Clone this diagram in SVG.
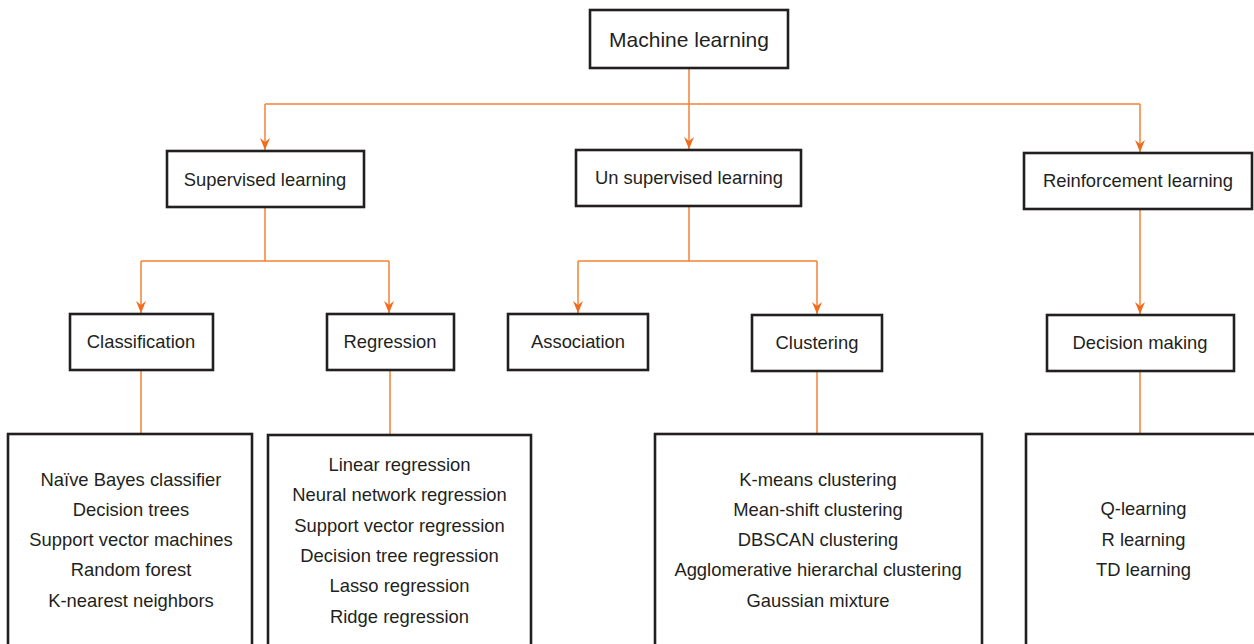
<svg xmlns="http://www.w3.org/2000/svg" width="1254" height="644" viewBox="0 0 1254 644">
<defs>
<style>
.box{fill:#fff;stroke:#231f20;stroke-width:2.6}
.t{font-family:"Liberation Sans",Arial,sans-serif;font-size:18.4px;fill:#231f20;text-anchor:middle}
.big{font-size:21px}
.c{fill:none;stroke:#f58233;stroke-width:1.5}
</style>
<marker id="arr" viewBox="0 0 12 10" markerWidth="12" markerHeight="10" refX="12" refY="5" orient="auto" markerUnits="userSpaceOnUse">
<path d="M0,0 L4,5 L0,10 L12,5 Z" fill="#f26b1d"/>
</marker>
</defs>
<rect width="1254" height="644" fill="#fff"/>
<g id="connectors">
<path class="c" d="M689,68 V149" marker-end="url(#arr)"/>
<path class="c" d="M265,104 H1140"/>
<path class="c" d="M265,104 V150" marker-end="url(#arr)"/>
<path class="c" d="M1140,104 V152" marker-end="url(#arr)"/>
<path class="c" d="M265,207 V261"/>
<path class="c" d="M141,261 H389"/>
<path class="c" d="M141,261 V313" marker-end="url(#arr)"/>
<path class="c" d="M389,261 V313" marker-end="url(#arr)"/>
<path class="c" d="M689,206 V261"/>
<path class="c" d="M578,261 H817"/>
<path class="c" d="M578,261 V313" marker-end="url(#arr)"/>
<path class="c" d="M817,261 V314" marker-end="url(#arr)"/>
<path class="c" d="M1140,209 V314" marker-end="url(#arr)"/>
<path class="c" d="M141,370 V434"/>
<path class="c" d="M390,370 V435"/>
<path class="c" d="M817,371 V434"/>
<path class="c" d="M1140,371 V434"/>
</g>
<g id="ml"><rect class="box" x="590" y="10" width="198" height="58"/><text class="t big" x="689" y="46.5">Machine learning</text></g>
<g id="supervised"><rect class="box" x="167" y="151" width="197" height="56"/><text class="t" x="265" y="185.5">Supervised learning</text></g>
<g id="unsupervised"><rect class="box" x="576" y="150" width="225" height="56"/><text class="t" x="689" y="183.5">Un supervised learning</text></g>
<g id="reinforcement"><rect class="box" x="1024" y="153" width="228" height="56"/><text class="t" x="1138" y="186.5">Reinforcement learning</text></g>
<g id="classification"><rect class="box" x="70" y="314" width="143" height="56"/><text class="t" x="141" y="347.5">Classification</text></g>
<g id="regression"><rect class="box" x="327" y="314" width="127" height="56"/><text class="t" x="390" y="347.5">Regression</text></g>
<g id="association"><rect class="box" x="508" y="314" width="140" height="56"/><text class="t" x="578" y="347.5">Association</text></g>
<g id="clustering"><rect class="box" x="752" y="315" width="130" height="56"/><text class="t" x="817" y="348.5">Clustering</text></g>
<g id="decision"><rect class="box" x="1047" y="315" width="187" height="56"/><text class="t" x="1140" y="348.5">Decision making</text></g>
<g id="class-list"><rect class="box" x="8" y="434" width="244" height="230"/>
<text class="t" x="131" y="485.5">Naïve Bayes classifier</text>
<text class="t" x="131" y="515.5">Decision trees</text>
<text class="t" x="131" y="545.5">Support vector machines</text>
<text class="t" x="131" y="575.5">Random forest</text>
<text class="t" x="131" y="606.5">K-nearest neighbors</text>
</g>
<g id="reg-list"><rect class="box" x="268" y="435" width="263" height="230"/>
<text class="t" x="399.5" y="470.5">Linear regression</text>
<text class="t" x="399.5" y="500.5">Neural network regression</text>
<text class="t" x="399.5" y="531.5">Support vector regression</text>
<text class="t" x="399.5" y="561.5">Decision tree regression</text>
<text class="t" x="399.5" y="591.5">Lasso regression</text>
<text class="t" x="399.5" y="622.5">Ridge regression</text>
</g>
<g id="clust-list"><rect class="box" x="655" y="434" width="327" height="230"/>
<text class="t" x="818" y="485.5">K-means clustering</text>
<text class="t" x="818" y="515.5">Mean-shift clustering</text>
<text class="t" x="818" y="545.5">DBSCAN clustering</text>
<text class="t" x="818" y="576">Agglomerative hierarchal clustering</text>
<text class="t" x="818" y="606.5">Gaussian mixture</text>
</g>
<g id="rl-list"><rect class="box" x="1026" y="434" width="240" height="230"/>
<text class="t" x="1143.5" y="515">Q-learning</text>
<text class="t" x="1143.5" y="545.5">R learning</text>
<text class="t" x="1143.5" y="576">TD learning</text>
</g>
</svg>
